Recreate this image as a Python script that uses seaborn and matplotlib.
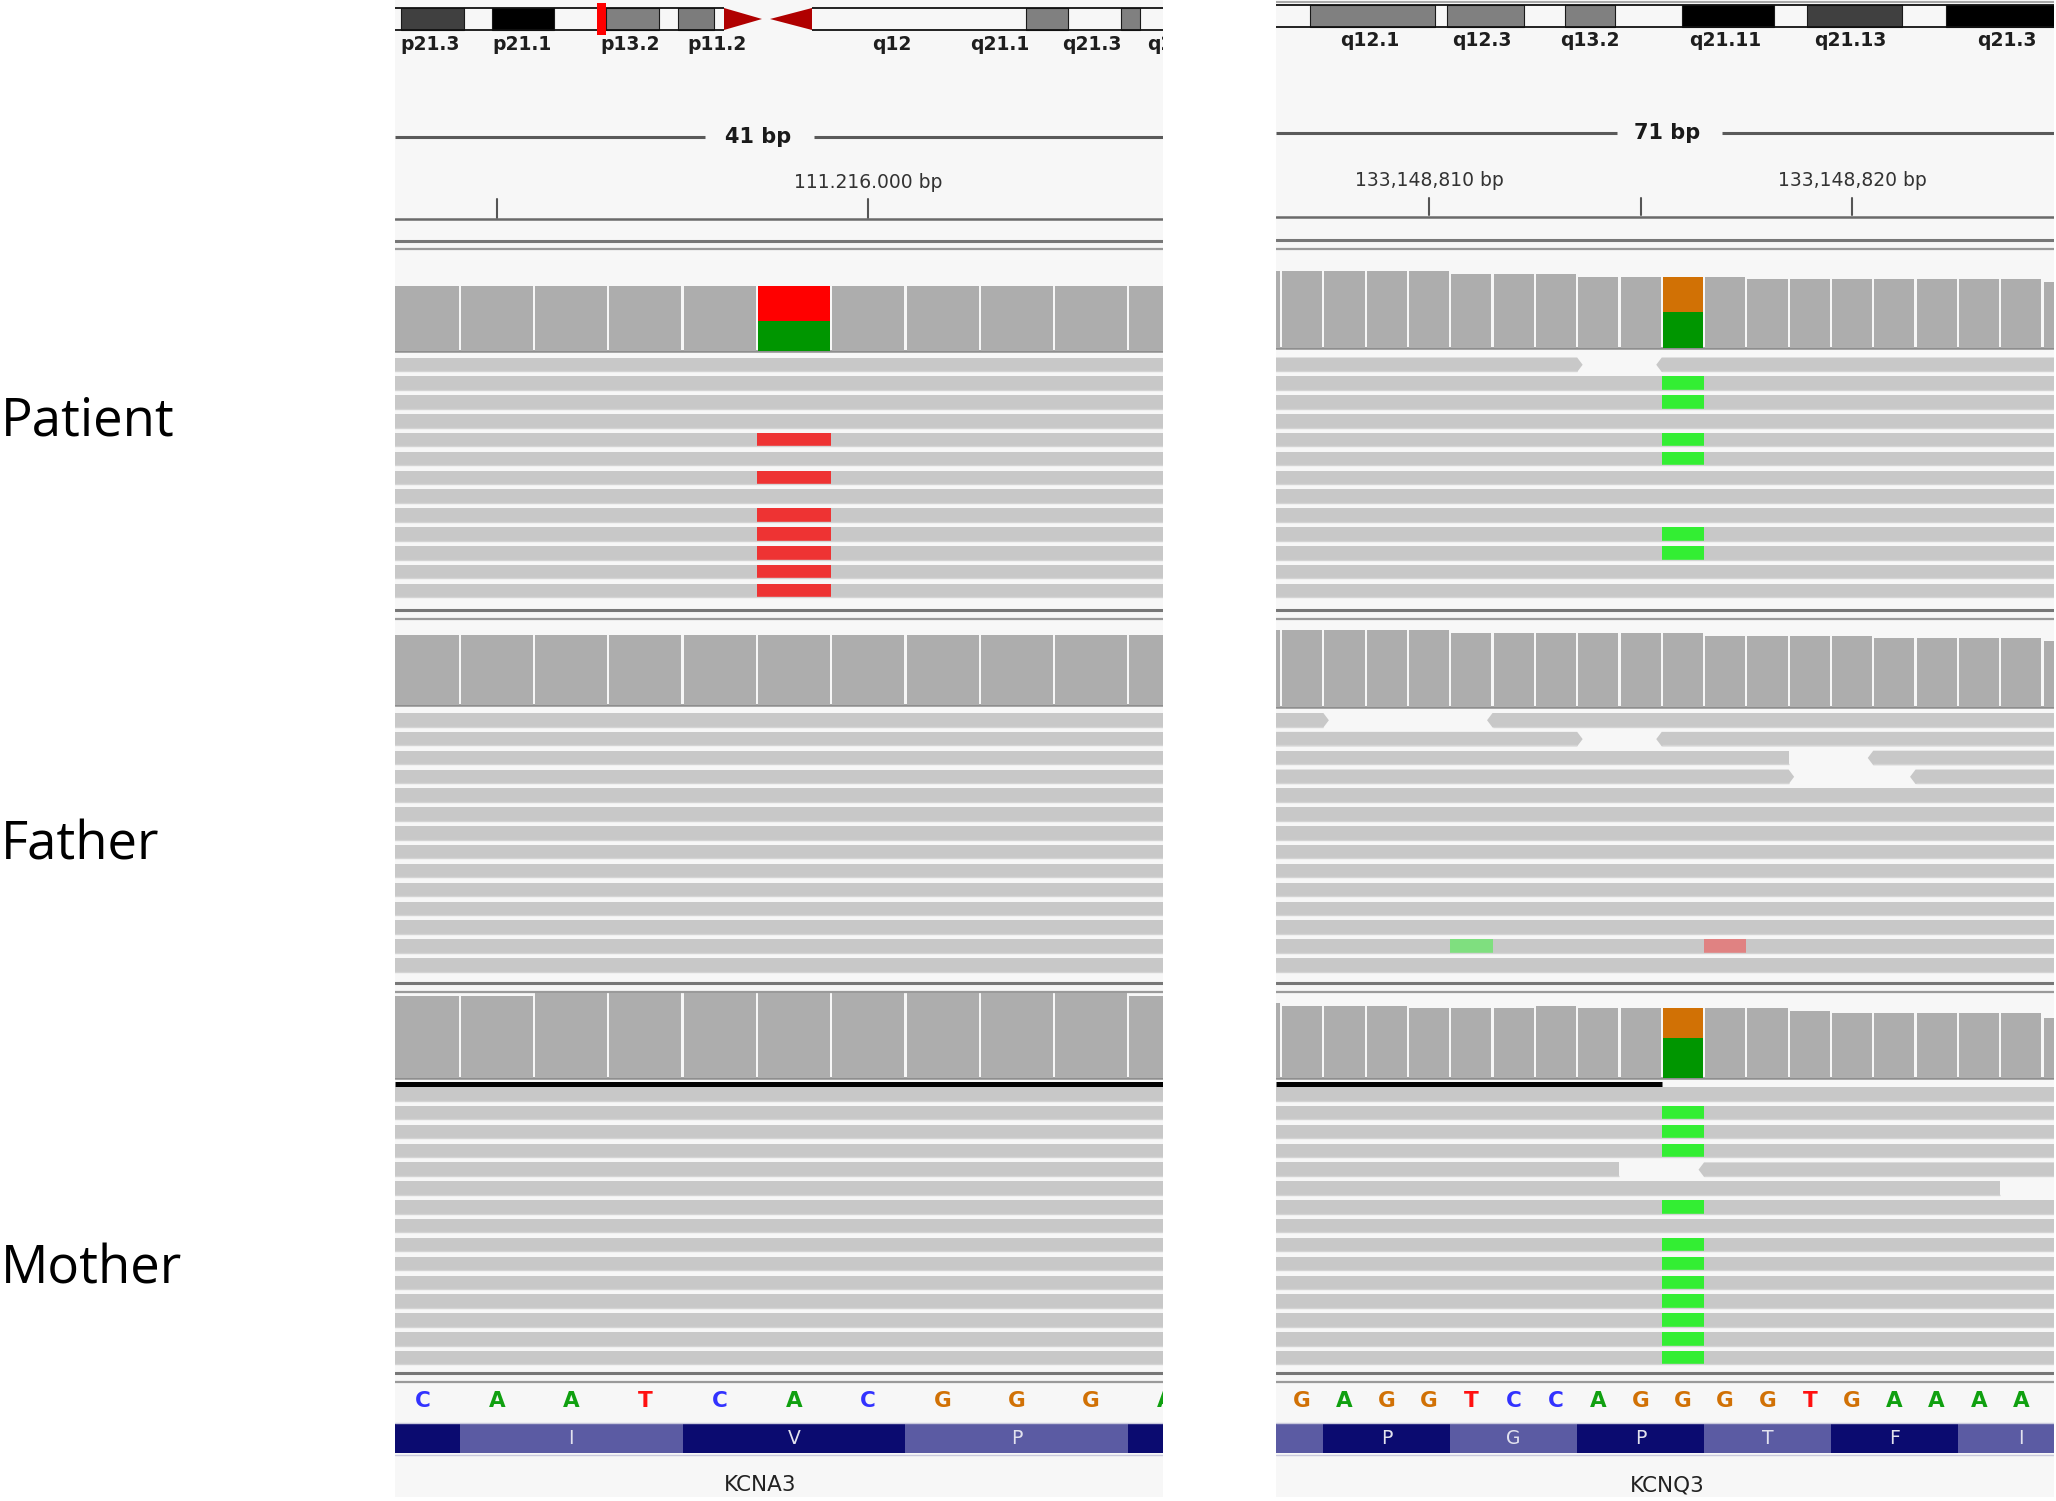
import numpy as np
import pandas as pd
import matplotlib.pyplot as plt
import matplotlib.transforms as mtransforms
from matplotlib.patches import Polygon, Rectangle
import seaborn as sns

W, H = 2056, 1501

sample_names = ["Patient", "Father", "Mother"]

# left view : KCNA3
kcna3_seq = list("CAATCACGGGA")
kcna3_bases = [0, 1, 2, 3, 4, 5, 6, 7, 8, 9, 10]
kcna3_ruler_idx = [1, 6]
kcna3_ruler_lab = ["", "111.216.000 bp"]
kcna3_span = "41 bp"
kcna3_codon_first = [-2, 1, 4, 7, 10]
kcna3_codon_aa = ["", "I", "V", "P", ""]
kcna3_codon_dark = [1, 0, 1, 0, 1]
kcna3_cov_patient = [13, 13, 13, 13, 13, 13, 13, 13, 13, 13, 13]
kcna3_cov_father = [14, 14, 14, 14, 14, 14, 14, 14, 14, 14, 14]
kcna3_cov_mother = [29, 29, 30, 30, 30, 30, 30, 30, 30, 30, 29]
kcna3_var_base = 5
kcna3_var_alleles = ["T", "A"]          # top / bottom of the coverage bar
kcna3_var_patient = [7, 6]
kcna3_n_rows = [13, 14, 15]
kcna3_alt_rows_patient = [4, 6, 8, 9, 10, 11, 12]

# right view : KCNQ3
kcnq3_seq = list("GAGGTCCAGGGGTGAAAA")
kcnq3_bases = [-1, 0, 1, 2, 3, 4, 5, 6, 7, 8, 9, 10, 11, 12, 13, 14, 15, 16, 17, 18]
kcnq3_ruler_idx = [3, 8, 13]
kcnq3_ruler_lab = ["133,148,810 bp", "", "133,148,820 bp"]
kcnq3_span = "71 bp"
kcnq3_codon_first = [-2, 1, 4, 7, 10, 13, 16]
kcnq3_codon_aa = ["", "P", "G", "P", "T", "F", "I"]
kcnq3_codon_dark = [0, 1, 0, 1, 0, 1, 0]
kcnq3_cov_patient = [28, 28, 28, 28, 28, 27, 27, 27, 26, 26, 26, 26, 25, 25, 25, 25, 25, 25, 25, 24]
kcnq3_cov_father = [28, 28, 28, 28, 28, 27, 27, 27, 27, 27, 27, 26, 26, 26, 26, 25, 25, 25, 25, 24]
kcnq3_cov_mother = [30, 29, 29, 29, 28, 28, 28, 29, 28, 28, 28, 28, 28, 27, 26, 26, 26, 26, 26, 24]
kcnq3_var_base = 9
kcnq3_var_alleles = ["G", "A"]
kcnq3_var_patient = [13, 13]
kcnq3_var_mother = [12, 16]
kcnq3_n_rows = [13, 14, 15]
kcnq3_alt_rows_patient = [1, 2, 4, 5, 9, 10]
kcnq3_alt_rows_mother = [1, 2, 3, 6, 8, 9, 10, 11, 12, 13, 14]
# split rows: (start, end, arrow at start, arrow at end) in base units
kcnq3_split_patient = {0: [(-9, 6.5, 0, 1), (8.5, 99, 1, 0)]}
kcnq3_split_father = {0: [(-9, 0.5, 0, 1), (4.5, 99, 1, 0)],
                      1: [(-9, 6.5, 0, 1), (8.5, 99, 1, 0)],
                      2: [(-9, 11.5, 0, 0), (13.5, 99, 1, 0)],
                      3: [(-9, 11.5, 0, 1), (14.5, 99, 1, 0)]}
kcnq3_split_mother = {4: [(-9, 7.5, 0, 0), (9.5, 99, 1, 0)],
                      5: [(-9, 16.5, 0, 0)]}
kcnq3_lowq_father = [(12, 4, "A"), (12, 10, "T")]   # row, base, allele

# ideogram bands (pixels from the panel's left edge)
chr1_band_start = [6, 97, 211, 283, 631, 726]
chr1_band_end = [69, 159, 264, 319, 673, 745]
chr1_band_col = ["#404040", "#000000", "#808080", "#7c7c7c", "#808080", "#808080"]
chr1_labels = ["p21.3", "p21.1", "p13.2", "p11.2", "q12", "q21.1", "q21.3", "q22.1"]
chr1_label_x = [35, 127, 235, 322, 497, 605, 697, 782]
chr8_band_start = [34, 171, 289, 406, 531, 670]
chr8_band_end = [159, 248, 339, 498, 626, 800]
chr8_band_col = ["#808080", "#808080", "#808080", "#000000", "#404040", "#000000"]
chr8_labels = ["q12.1", "q12.3", "q13.2", "q21.11", "q21.13", "q21.3"]
chr8_label_x = [94, 206, 314, 449, 574, 731]

allele_cov = {"A": "#009600", "C": "#0000ff", "G": "#d17105", "T": "#ff0000"}
allele_read = {"A": "#33ee33", "T": "#ee3333"}
allele_lowq = {"A": "#7fdf7f", "T": "#e08282"}
seq_col = {"A": "#10a010", "C": "#3232ff", "G": "#d17105", "T": "#ff1010"}

READ_GRAY = "#c8c8c8"
COV_GRAY = "#adadad"
PANEL_BG = "#f7f7f7"

read_top = [357.5, 713, 1087]
ROW_STEP = 18.85
ROW_H = 14.5

# ---------------- figure ----------------
sns.set_theme(style="white")
plt.rcParams["font.family"] = ["DejaVu Sans"]

fig = plt.figure(figsize=(W / 100, H / 100), dpi=100)
fig.patch.set_facecolor("white")


def px_rect(x0, y0, x1, y1):
    return [x0 / W, 1 - y1 / H, (x1 - x0) / W, (y1 - y0) / H]


canvas = fig.add_axes([0, 0, 1, 1])
canvas.set_xlim(0, W)
canvas.set_ylim(H, 0)
canvas.axis("off")

for name, base_y in zip(sample_names, [436, 860, 1283]):
    canvas.text(1, base_y, name, fontsize=38, family=["Open Sans", "DejaVu Sans"],
                ha="left", va="baseline", color="black")


def draw_ideogram(lay, starts, ends, cols, labels, label_x, centro=None, marker=None):
    width = lay["x1"] - lay["x0"]
    ax = fig.add_axes(px_rect(lay["x0"], 0, lay["x1"], 60))
    ax.set_xlim(0, width)
    ax.set_ylim(60, 0)
    ax.axis("off")
    top, bot = lay["ideo_top"], lay["ideo_bot"]
    ax.broken_barh([(s, e - s) for s, e in zip(starts, ends)], (top, bot - top),
                   facecolors=cols, edgecolor="#1a1a1a", linewidth=0.8)
    if centro:
        a, b, c, d = centro
        ax.add_patch(Polygon([(a, top), (b, (top + bot) / 2), (a, bot)], closed=True,
                             facecolor="#b00000", edgecolor="none"))
        ax.add_patch(Polygon([(d, top), (c, (top + bot) / 2), (d, bot)], closed=True,
                             facecolor="#b00000", edgecolor="none"))
        segs = [(0, a), (d, width)]
    else:
        segs = [(0, width)]
        ax.plot([0, width], [1.5, 1.5], color="#9a9a9a", lw=1.2, solid_capstyle="butt")
    for s, e in segs:
        ax.plot([s, e], [top, top], color="#111111", lw=1.3, solid_capstyle="butt")
        ax.plot([s, e], [bot, bot], color="#111111", lw=1.3, solid_capstyle="butt")
    if marker:
        ax.add_patch(Rectangle((marker[0], top - 5), marker[1] - marker[0], bot - top + 10,
                               facecolor="#ff0000", edgecolor="none", zorder=5))
    for lab, x in zip(labels, label_x):
        ax.text(x, lay["ideo_lab"], lab, fontsize=13.5, fontweight="bold", color="#1e1e1e",
                ha="center", va="center", clip_on=True)


def draw_coverage(lay, top, bottom, cmax, bases, counts, var_base=None, alleles=None, var_counts=None):
    cax = fig.add_axes(px_rect(lay["x0"], top, lay["x1"], bottom))
    cax.patch.set_alpha(0)
    gap = 1 - 2.2 / lay["bw"]
    df = pd.DataFrame({"base": bases, "count": counts})
    ref = df[df["base"] != var_base] if var_base is not None else df
    sns.barplot(data=ref, x="base", y="count", native_scale=True, color=COV_GRAY,
                saturation=1, width=gap, errorbar=None, linewidth=0, ax=cax)
    if var_base is not None and var_counts is not None:
        total = int(df.loc[df["base"] == var_base, "count"].iloc[0])
        sns.barplot(x=[var_base], y=[total], native_scale=True, color=allele_cov[alleles[0]],
                    saturation=1, width=gap, errorbar=None, linewidth=0, ax=cax)
        sns.barplot(x=[var_base], y=[var_counts[1]], native_scale=True, color=allele_cov[alleles[1]],
                    saturation=1, width=gap, errorbar=None, linewidth=0, ax=cax)
    elif var_base is not None:
        total = int(df.loc[df["base"] == var_base, "count"].iloc[0])
        sns.barplot(x=[var_base], y=[total], native_scale=True, color=COV_GRAY,
                    saturation=1, width=gap, errorbar=None, linewidth=0, ax=cax)
    cax.set_xlim(lay["xlim"])
    cax.set_ylim(0, cmax)
    cax.axis("off")


def draw_reads(ax, lay, y0, n_rows, splits=None, alt_rows=(), var_base=None, allele=None, lowq=()):
    splits = splits or {}
    tip = 5.5 / lay["bw"]
    lo, hi = lay["xlim"]
    for r in range(n_rows):
        top = y0 + r * ROW_STEP
        bot = top + ROW_H
        mid = (top + bot) / 2
        for s, e, tl, tr in splits.get(r, [(-9, 99, 0, 0)]):
            s = max(s, lo - 1)
            e = min(e, hi + 1)
            pts = [(s, top), (e, top), (e + tip * tr, mid), (e, bot), (s, bot), (s - tip * tl, mid)]
            ax.add_patch(Polygon(pts, closed=True, facecolor=READ_GRAY, edgecolor="none"))
            ax.plot([s, e], [bot - 1, bot - 1], color="#d4d4d4", lw=1.0, solid_capstyle="butt")
        if r in alt_rows:
            ax.add_patch(Rectangle((var_base - 0.5, top), 1, ROW_H,
                                   facecolor=allele_read[allele], edgecolor="none"))
    for r, b, al in lowq:
        top = y0 + r * ROW_STEP
        ax.add_patch(Rectangle((b - 0.5, top), 1, ROW_H, facecolor=allele_lowq[al], edgecolor="none"))


def draw_frame(lay, seq, ruler_idx, ruler_lab, span, codon_first, codon_aa, codon_dark, gene):
    canvas.add_patch(Rectangle((lay["x0"], 0), lay["x1"] - lay["x0"], 1497,
                               facecolor=PANEL_BG, edgecolor="none", zorder=0))
    ax = fig.add_axes(px_rect(lay["x0"], 0, lay["x1"], H))
    ax.patch.set_alpha(0)
    ax.set_xlim(lay["xlim"])
    ax.set_ylim(H, 0)
    ax.axis("off")
    blend = mtransforms.blended_transform_factory(ax.transAxes, ax.transData)

    # scale bar
    g0, g1 = lay["span_gap"]
    ax.plot([0, g0], [lay["span_y"]] * 2, color="#5a5a5a", lw=2.2, transform=blend, solid_capstyle="butt")
    ax.plot([g1, 1], [lay["span_y"]] * 2, color="#5a5a5a", lw=2.2, transform=blend, solid_capstyle="butt")
    ax.text(lay["span_x"], lay["span_y"], span, transform=blend, fontsize=15, fontweight="bold",
            ha="center", va="center", color="#1a1a1a")

    # ruler
    t0, t1 = lay["tick"]
    for idx, lab in zip(ruler_idx, ruler_lab):
        ax.plot([idx, idx], [t0, t1], color="#555555", lw=1.5)
        if lab:
            ax.text(idx, lay["ruler_lab_y"], lab, fontsize=13.5, ha="center", va="center", color="#333333")
    ax.axhline(lay["ruler_y"], color="#6a6a6a", lw=1.8)

    # track separators
    for ya, yb in [lay["sep1"], (610, 619), (983, 992), (1373, 1382)]:
        ax.axhline(ya, color="#777777", lw=2.2)
        ax.axhline(yb, color="#9a9a9a", lw=1.6)

    # coverage baselines
    for top, bottom, cmax in lay["cov"]:
        ax.axhline(bottom, color="#8e8e8e", lw=1.8)

    # reference sequence
    for i, b in enumerate(seq):
        ax.text(i, 1401, b, fontsize=15.5, fontweight="bold", color=seq_col[b],
                ha="center", va="center", clip_on=True)

    # translated codons
    for first, aa, dark in zip(codon_first, codon_aa, codon_dark):
        ax.add_patch(Rectangle((first - 0.5, 1424), 3, 29,
                               facecolor="#0b0b70" if dark else "#5b5ba3", edgecolor="none"))
        if aa:
            ax.text(first + 1, 1439, aa, fontsize=13.5, color="#e2e2ee", ha="center", va="center")
    ax.plot([0, 1], [1422.5, 1422.5], color="#c9c9dd", lw=1, transform=blend)
    ax.plot([0, 1], [1454.5, 1454.5], color="#c9c9dd", lw=1, transform=blend)

    ax.text(lay["gene_x"], 1485, gene, transform=blend, fontsize=15.5, color="#222222",
            ha="center", va="center")
    return ax


left = dict(x0=395, x1=1163, c0=422.5, bw=74.3, ideo_top=8, ideo_bot=30, ideo_lab=44,
            span_y=137, span_x=0.473, span_gap=(0.404, 0.546), ruler_lab_y=183, tick=(199, 218),
            ruler_y=219, sep1=(241, 249), gene_x=0.475,
            cov=[(286, 351, 13), (635, 705, 14), (993, 1078, 30)])
right = dict(x0=1276, x1=2054, c0=1302.2, bw=42.3, ideo_top=5, ideo_bot=27, ideo_lab=40,
             span_y=133, span_x=0.503, span_gap=(0.438, 0.573), ruler_lab_y=180, tick=(198, 215),
             ruler_y=217, sep1=(240, 249), gene_x=0.503,
             cov=[(271, 348, 28), (630, 707, 28), (1003, 1078, 30)])
for lay in (left, right):
    lay["xlim"] = ((lay["x0"] - lay["c0"]) / lay["bw"], (lay["x1"] - lay["c0"]) / lay["bw"])

# ---- left panel (KCNA3) ----
axl = draw_frame(left, kcna3_seq, kcna3_ruler_idx, kcna3_ruler_lab, kcna3_span,
                 kcna3_codon_first, kcna3_codon_aa, kcna3_codon_dark, "KCNA3")
draw_ideogram(left, chr1_band_start, chr1_band_end, chr1_band_col, chr1_labels, chr1_label_x,
              centro=(329, 367, 375, 417), marker=(202, 211))
draw_reads(axl, left, read_top[0], kcna3_n_rows[0], alt_rows=kcna3_alt_rows_patient,
           var_base=kcna3_var_base, allele=kcna3_var_alleles[0])
draw_reads(axl, left, read_top[1], kcna3_n_rows[1])
draw_reads(axl, left, read_top[2], kcna3_n_rows[2])
axl.plot([left["xlim"][0], left["xlim"][1]], [1083.5, 1083.5], color="black", lw=3.6, solid_capstyle="butt")
(pt, pb, pm), (ft, fb, fm), (mt, mb, mm) = left["cov"]
draw_coverage(left, pt, pb, pm, kcna3_bases, kcna3_cov_patient, kcna3_var_base,
              kcna3_var_alleles, kcna3_var_patient)
draw_coverage(left, ft, fb, fm, kcna3_bases, kcna3_cov_father)
draw_coverage(left, mt, mb, mm, kcna3_bases, kcna3_cov_mother)

# ---- right panel (KCNQ3) ----
axr = draw_frame(right, kcnq3_seq, kcnq3_ruler_idx, kcnq3_ruler_lab, kcnq3_span,
                 kcnq3_codon_first, kcnq3_codon_aa, kcnq3_codon_dark, "KCNQ3")
draw_ideogram(right, chr8_band_start, chr8_band_end, chr8_band_col, chr8_labels, chr8_label_x)
draw_reads(axr, right, read_top[0], kcnq3_n_rows[0], splits=kcnq3_split_patient,
           alt_rows=kcnq3_alt_rows_patient, var_base=kcnq3_var_base, allele=kcnq3_var_alleles[1])
draw_reads(axr, right, read_top[1], kcnq3_n_rows[1], splits=kcnq3_split_father, lowq=kcnq3_lowq_father)
draw_reads(axr, right, read_top[2], kcnq3_n_rows[2], splits=kcnq3_split_mother,
           alt_rows=kcnq3_alt_rows_mother, var_base=kcnq3_var_base, allele=kcnq3_var_alleles[1])
axr.plot([right["xlim"][0], kcnq3_var_base - 0.5], [1083.5, 1083.5], color="black", lw=3.6,
         solid_capstyle="butt")
(pt, pb, pm), (ft, fb, fm), (mt, mb, mm) = right["cov"]
draw_coverage(right, pt, pb, pm, kcnq3_bases, kcnq3_cov_patient, kcnq3_var_base,
              kcnq3_var_alleles, kcnq3_var_patient)
draw_coverage(right, ft, fb, fm, kcnq3_bases, kcnq3_cov_father)
draw_coverage(right, mt, mb, mm, kcnq3_bases, kcnq3_cov_mother, kcnq3_var_base,
              kcnq3_var_alleles, kcnq3_var_mother)

fig.savefig("out.png", dpi=100, facecolor="white")
